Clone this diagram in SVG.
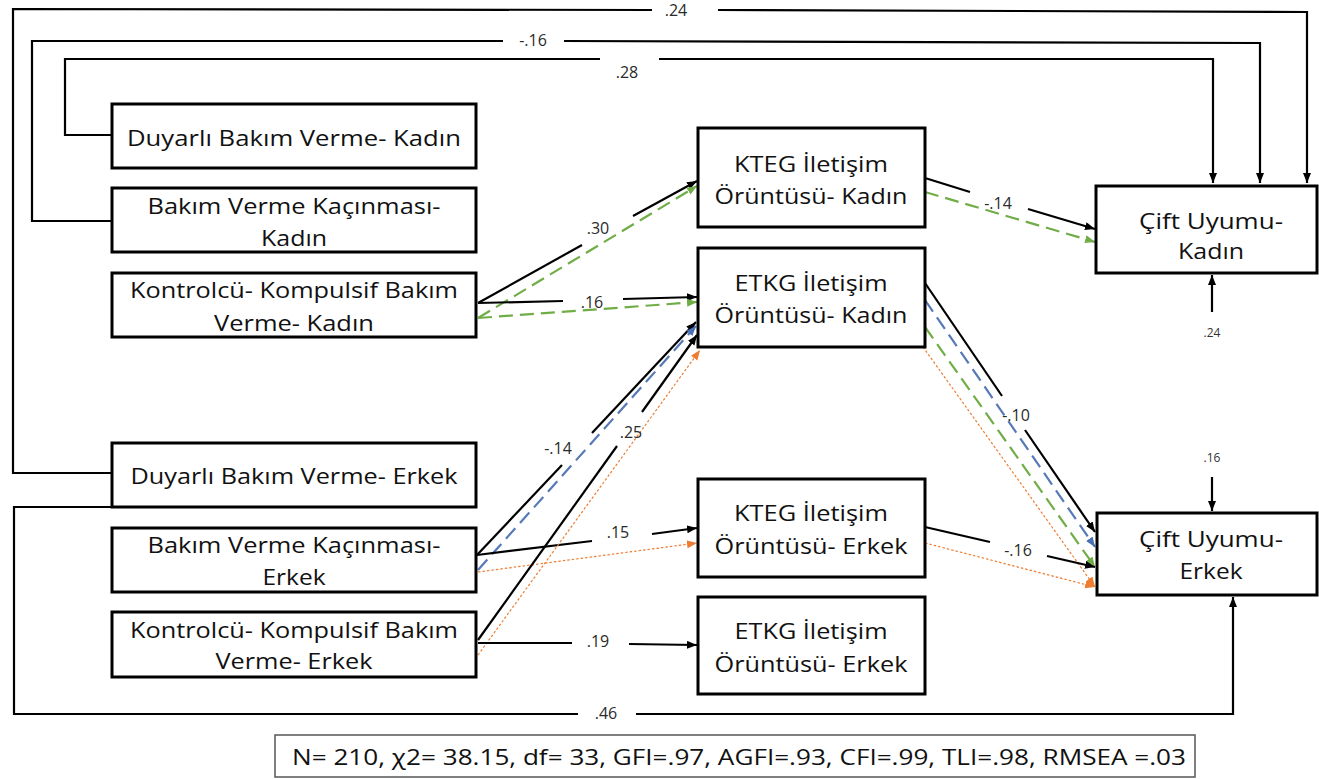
<svg xmlns="http://www.w3.org/2000/svg" width="1319" height="779" viewBox="0 0 1319 779">
<style>
.box{fill:#fff;stroke:#000;stroke-width:3}
.t{font-family:"Open Sans","Liberation Sans",sans-serif;font-size:22px;fill:#111;text-anchor:middle;dominant-baseline:central}
.lbl{font-family:"Open Sans","Liberation Sans",sans-serif;font-size:16px;fill:#2a2a2a;text-anchor:middle;dominant-baseline:central}
.sm{font-family:"Open Sans","Liberation Sans",sans-serif;font-size:12px;fill:#333;text-anchor:middle;dominant-baseline:central}
.k{fill:none;stroke:#000;stroke-width:2.2}
.g{fill:none;stroke:#70AD47;stroke-width:2.2;stroke-dasharray:14 7}
.b{fill:none;stroke:#5679B8;stroke-width:2.2;stroke-dasharray:14 7}
.o{fill:none;stroke:#ED7D31;stroke-width:1.2;stroke-dasharray:2.5 2}
</style>
<defs>
<marker id="ak" markerUnits="userSpaceOnUse" markerWidth="11" markerHeight="9" refX="10" refY="4" orient="auto"><path d="M0,0 L10,4 L0,8 z" fill="#000"/></marker>
<marker id="ag" markerUnits="userSpaceOnUse" markerWidth="11" markerHeight="9" refX="10" refY="4" orient="auto"><path d="M0,0 L10,4 L0,8 z" fill="#70AD47"/></marker>
<marker id="ab" markerUnits="userSpaceOnUse" markerWidth="11" markerHeight="9" refX="10" refY="4" orient="auto"><path d="M0,0 L10,4 L0,8 z" fill="#4A6FB5"/></marker>
<marker id="ao" markerUnits="userSpaceOnUse" markerWidth="11" markerHeight="9" refX="10" refY="4" orient="auto"><path d="M0,0 L10,4 L0,8 z" fill="#ED7D31"/></marker>
</defs>
<rect width="1319" height="779" fill="#fff"/>

<g id="connectors">
<!-- top brackets -->
<polyline class="k" points="112,473 13,473 13,9 652,10"/>
<polyline class="k" points="718,10 1307,12 1307,183" marker-end="url(#ak)"/>
<polyline class="k" points="113,221 32,221 32,41 503,41"/>
<polyline class="k" points="564,41 1260,43 1260,183" marker-end="url(#ak)"/>
<polyline class="k" points="112,135 65,135 65,59 600,59"/>
<polyline class="k" points="659,59 1213,59 1213,183" marker-end="url(#ak)"/>
<!-- bottom loop -->
<polyline class="k" points="112,507 14,507 14,714 578,714"/>
<polyline class="k" points="636,714 1233,714 1233,597" marker-end="url(#ak)"/>
<!-- residuals -->
<line class="k" x1="1212" y1="312" x2="1212" y2="275" stroke-width="1.5" marker-end="url(#ak)"/>
<line class="k" x1="1212" y1="477" x2="1212" y2="511" stroke-width="1.5" marker-end="url(#ak)"/>

<!-- Kontrolcu Kadin -> KTEG Kadin (.30) -->
<line class="k" x1="478" y1="303" x2="582" y2="245"/>
<line class="k" x1="633" y1="216" x2="697" y2="181" marker-end="url(#ak)"/>
<line class="g" x1="478" y1="318" x2="697" y2="186" marker-end="url(#ag)"/>
<!-- Kontrolcu Kadin -> ETKG Kadin (.16) -->
<line class="k" x1="478" y1="303" x2="563" y2="301"/>
<line class="k" x1="623" y1="299" x2="697" y2="297" marker-end="url(#ak)"/>
<line class="g" x1="478" y1="318" x2="697" y2="302" marker-end="url(#ag)"/>
<!-- KTEG Kadin -> Cift Kadin (-.14) -->
<line class="k" x1="925" y1="178" x2="970" y2="192"/>
<line class="k" x1="1028" y1="209" x2="1095" y2="229" marker-end="url(#ak)"/>
<line class="g" x1="925" y1="192" x2="1095" y2="242" marker-end="url(#ag)"/>
<!-- ETKG Kadin -> Cift Erkek (-.10) -->
<line class="k" x1="925" y1="283" x2="1002" y2="396"/>
<line class="k" x1="1025" y1="430" x2="1095" y2="532" marker-end="url(#ak)"/>
<line class="b" x1="925" y1="300" x2="1095" y2="547" marker-end="url(#ab)"/>
<line class="g" x1="925" y1="327" x2="1095" y2="567" marker-end="url(#ag)"/>
<line class="o" x1="923" y1="347" x2="1095" y2="587" marker-end="url(#ao)"/>
<!-- KTEG Erkek -> Cift Erkek (-.16) -->
<line class="k" x1="925" y1="527" x2="990" y2="542"/>
<line class="k" x1="1047" y1="556" x2="1095" y2="567" marker-end="url(#ak)"/>
<line class="o" x1="925" y1="543" x2="1095" y2="587" marker-end="url(#ao)"/>
<!-- Bakim Erkek -> ETKG Kadin (-.14) -->
<line class="k" x1="477" y1="555" x2="562" y2="465"/>
<line class="k" x1="592" y1="433" x2="696" y2="322" marker-end="url(#ak)"/>
<line class="b" x1="478" y1="570" x2="696" y2="326" marker-end="url(#ab)"/>
<!-- Bakim Erkek -> KTEG Erkek (.15) -->
<line class="k" x1="477" y1="555" x2="592" y2="541"/>
<line class="k" x1="652" y1="534" x2="697" y2="528" marker-end="url(#ak)"/>
<line class="o" x1="478" y1="572" x2="697" y2="543" marker-end="url(#ao)"/>
<!-- Kontrolcu Erkek -> ETKG Kadin (.25) -->
<line class="k" x1="478" y1="640" x2="617" y2="446"/>
<line class="k" x1="642" y1="412" x2="697" y2="335" marker-end="url(#ak)"/>
<line class="o" x1="478" y1="655" x2="700" y2="350" marker-end="url(#ao)"/>
<!-- Kontrolcu Erkek -> ETKG Erkek (.19) -->
<line class="k" x1="478" y1="643" x2="572" y2="643"/>
<line class="k" x1="629" y1="644" x2="697" y2="645" marker-end="url(#ak)"/>

<!-- labels -->
<text class="lbl" x="676" y="10">.24</text>
<text class="lbl" x="533" y="40">-.16</text>
<text class="lbl" x="627" y="72">.28</text>
<text class="lbl" x="606" y="713">.46</text>
<text class="lbl" x="598" y="228">.30</text>
<text class="lbl" x="592" y="302">.16</text>
<text class="lbl" x="998" y="203">-.14</text>
<text class="lbl" x="1016" y="415">-.10</text>
<text class="lbl" x="1018" y="550">-.16</text>
<text class="lbl" x="558" y="448">-.14</text>
<text class="lbl" x="631" y="432">.25</text>
<text class="lbl" x="618" y="532">.15</text>
<text class="lbl" x="598" y="641">.19</text>
<text class="sm" x="1212" y="332">.24</text>
<text class="sm" x="1212" y="457">.16</text>
</g>

<g id="n_duyarli_kadin">
<rect class="box" x="112" y="104" width="364" height="64"/>
<text class="t" x="294" y="137" textLength="334" lengthAdjust="spacingAndGlyphs">Duyarlı Bakım Verme- Kadın</text>
</g>
<g id="n_kacinma_kadin">
<rect class="box" x="112" y="188" width="364" height="64"/>
<text class="t" x="294" y="205" textLength="293" lengthAdjust="spacingAndGlyphs">Bakım Verme Kaçınması-</text>
<text class="t" x="294" y="237" textLength="66" lengthAdjust="spacingAndGlyphs">Kadın</text>
</g>
<g id="n_kontrolcu_kadin">
<rect class="box" x="112" y="273" width="364" height="64"/>
<text class="t" x="294" y="289" textLength="328" lengthAdjust="spacingAndGlyphs">Kontrolcü- Kompulsif Bakım</text>
<text class="t" x="294" y="322" textLength="160" lengthAdjust="spacingAndGlyphs">Verme- Kadın</text>
</g>
<g id="n_duyarli_erkek">
<rect class="box" x="112" y="443" width="364" height="64"/>
<text class="t" x="294" y="475" textLength="327" lengthAdjust="spacingAndGlyphs">Duyarlı Bakım Verme- Erkek</text>
</g>
<g id="n_kacinma_erkek">
<rect class="box" x="112" y="528" width="364" height="64"/>
<text class="t" x="294" y="544" textLength="293" lengthAdjust="spacingAndGlyphs">Bakım Verme Kaçınması-</text>
<text class="t" x="294" y="576" textLength="63" lengthAdjust="spacingAndGlyphs">Erkek</text>
</g>
<g id="n_kontrolcu_erkek">
<rect class="box" x="112" y="612" width="364" height="65"/>
<text class="t" x="294" y="629" textLength="328" lengthAdjust="spacingAndGlyphs">Kontrolcü- Kompulsif Bakım</text>
<text class="t" x="294" y="660" textLength="157" lengthAdjust="spacingAndGlyphs">Verme- Erkek</text>
</g>

<g id="n_kteg_kadin">
<rect class="box" x="698" y="128" width="227" height="99"/>
<text class="t" x="811" y="163" textLength="154" lengthAdjust="spacingAndGlyphs">KTEG İletişim</text>
<text class="t" x="811" y="195" textLength="193" lengthAdjust="spacingAndGlyphs">Örüntüsü- Kadın</text>
</g>
<g id="n_etkg_kadin">
<rect class="box" x="698" y="248" width="227" height="99"/>
<text class="t" x="811" y="282" textLength="153" lengthAdjust="spacingAndGlyphs">ETKG İletişim</text>
<text class="t" x="811" y="314" textLength="193" lengthAdjust="spacingAndGlyphs">Örüntüsü- Kadın</text>
</g>
<g id="n_kteg_erkek">
<rect class="box" x="698" y="479" width="227" height="98"/>
<text class="t" x="811" y="512" textLength="154" lengthAdjust="spacingAndGlyphs">KTEG İletişim</text>
<text class="t" x="811" y="545" textLength="193" lengthAdjust="spacingAndGlyphs">Örüntüsü- Erkek</text>
</g>
<g id="n_etkg_erkek">
<rect class="box" x="698" y="597" width="227" height="97"/>
<text class="t" x="811" y="630" textLength="153" lengthAdjust="spacingAndGlyphs">ETKG İletişim</text>
<text class="t" x="811" y="663" textLength="193" lengthAdjust="spacingAndGlyphs">Örüntüsü- Erkek</text>
</g>

<g id="n_cift_kadin">
<rect class="box" x="1096" y="186" width="221" height="87"/>
<text class="t" x="1211" y="220" textLength="144" lengthAdjust="spacingAndGlyphs">Çift Uyumu-</text>
<text class="t" x="1211" y="250" textLength="66" lengthAdjust="spacingAndGlyphs">Kadın</text>
</g>
<g id="n_cift_erkek">
<rect class="box" x="1097" y="513" width="220" height="82"/>
<text class="t" x="1211" y="538" textLength="144" lengthAdjust="spacingAndGlyphs">Çift Uyumu-</text>
<text class="t" x="1211" y="570" textLength="63" lengthAdjust="spacingAndGlyphs">Erkek</text>
</g>

<g id="fit_stats">
<rect x="275" y="735" width="920" height="42" fill="#fff" stroke="#555" stroke-width="1.5"/>
<text class="t" x="739" y="756" textLength="894" lengthAdjust="spacingAndGlyphs">N= 210, χ2= 38.15, df= 33, GFI=.97, AGFI=.93, CFI=.99, TLI=.98, RMSEA =.03</text>
</g>
</svg>
